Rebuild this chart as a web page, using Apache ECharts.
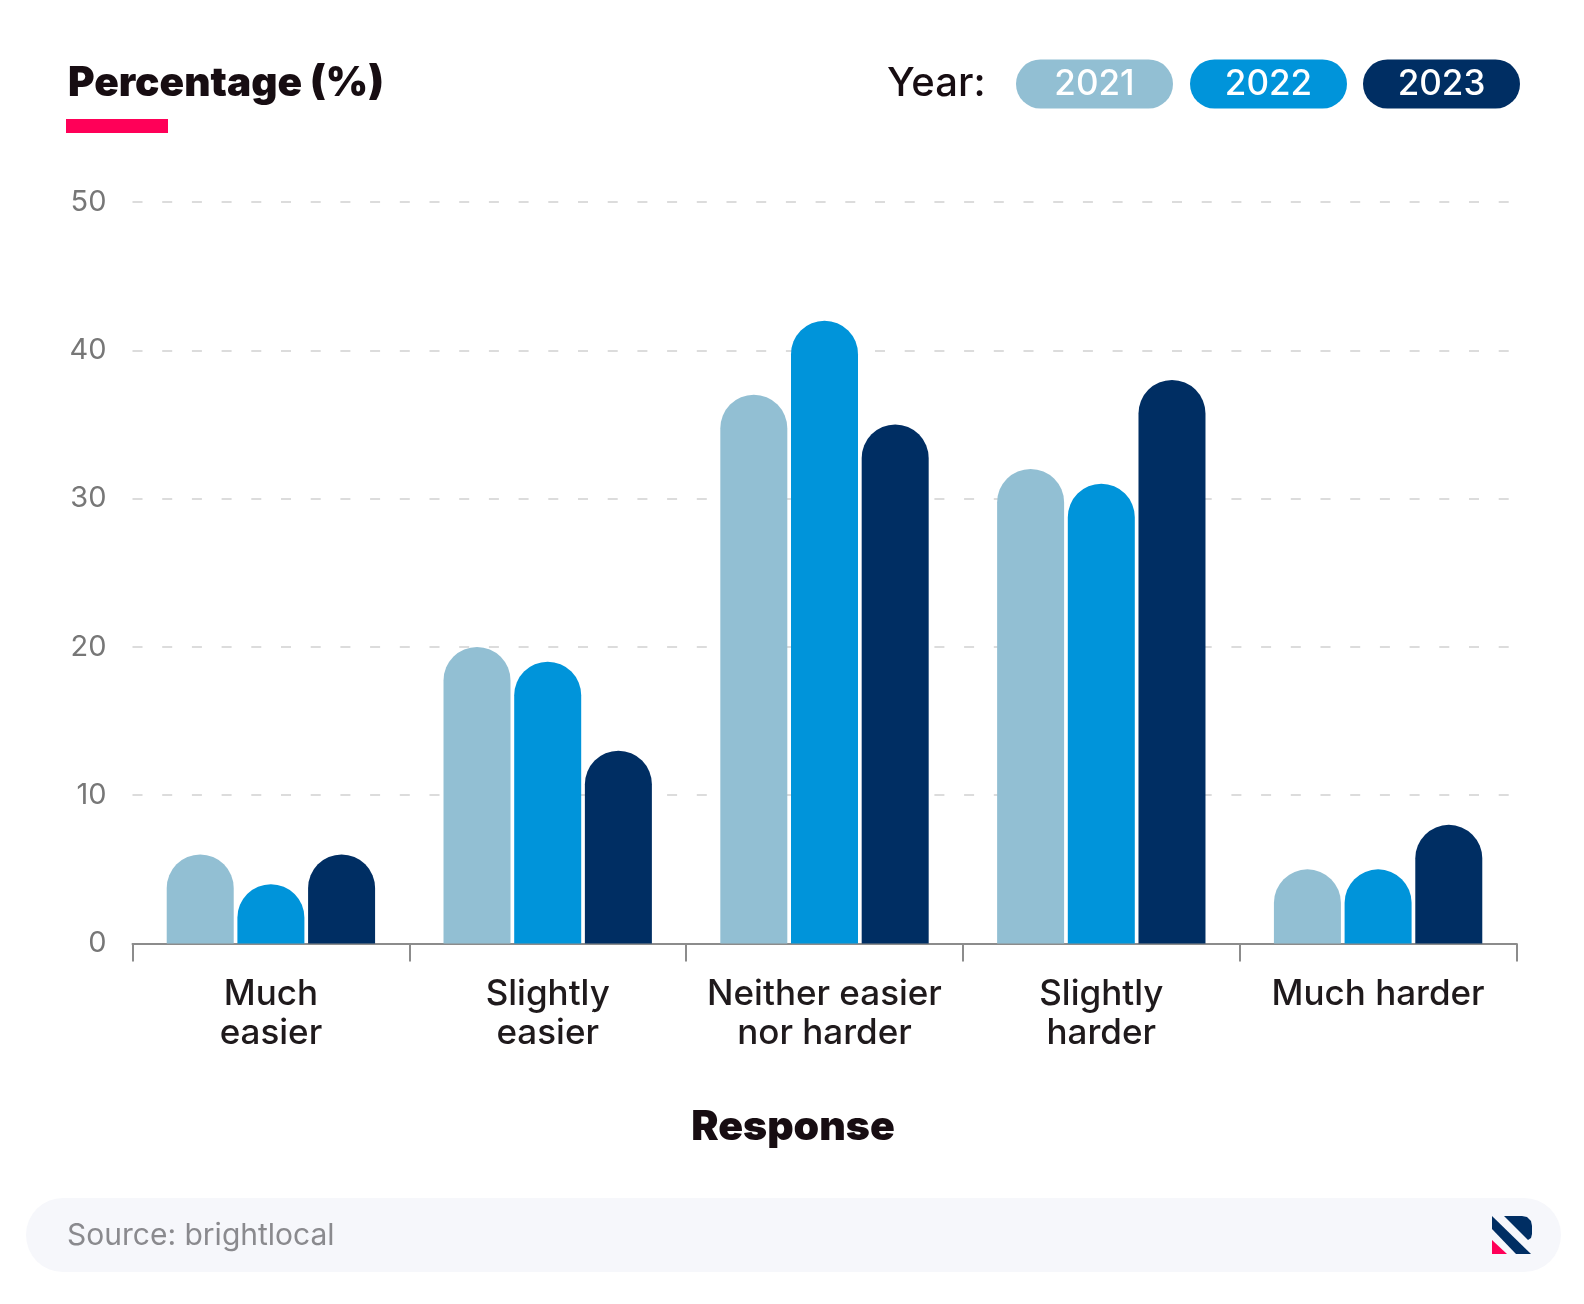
<!DOCTYPE html>
<html>
<head>
<meta charset="utf-8">
<title>Percentage by response</title>
<script src="https://cdn.jsdelivr.net/npm/echarts@6/dist/echarts.min.js"></script>
<style>
	html, body { margin: 0; padding: 0; background: #fff; }
	#chart { width: 1584px; height: 1304px; }
</style>
</head>
<body>
<div id="chart"></div>
<script>
var categories = ['Much\neasier', 'Slightly\neasier', 'Neither easier\nnor harder', 'Slightly\nharder', 'Much harder']
var years = ['2021', '2022', '2023']
var values2021 = [6, 20, 37, 32, 5]
var values2022 = [4, 19, 42, 31, 5]
var values2023 = [6, 13, 35, 38, 8]
var colors = ['#92bfd3', '#0094da', '#002e63']

var font = 'Inter, "Noto Sans", sans-serif'
var myChart = echarts.init(document.getElementById('chart'))

function makeSeries(name, data, color) {
	return {
		name: name,
		type: 'bar',
		data: data,
		barWidth: 67,
		barGap: '5.5%',
		itemStyle: { color: color, borderRadius: [33.5, 33.5, 0, 0] }
	}
}

// legend pills, drawn by hand because the text sits inside them
function pill(x, label, color) {
	return [{
		type: 'rect',
		shape: { x: x, y: 59.5, width: 157, height: 49, r: 24.5 },
		style: { fill: color }
	}, {
		type: 'text',
		x: x + 78.5,
		y: 84,
		style: { text: label, fill: '#fff', font: '500 35px ' + font, textAlign: 'center', textVerticalAlign: 'middle' }
	}]
}

var chrome = [{
	type: 'text',
	x: 68,
	y: 84,
	style: { text: 'Percentage (%)', fill: '#170d12', font: '900 40.6px ' + font, textVerticalAlign: 'middle' }
}, {
	type: 'rect',
	shape: { x: 66, y: 119, width: 102, height: 14 },
	style: { fill: '#ff0058' }
}, {
	type: 'text',
	x: 887,
	y: 84,
	style: { text: 'Year:', fill: '#170d12', font: '500 40px ' + font, textVerticalAlign: 'middle' }
}, {
	type: 'text',
	x: 793,
	y: 1128,
	style: { text: 'Response', fill: '#170d12', font: '900 41px ' + font, textAlign: 'center', textVerticalAlign: 'middle' }
}, {
	type: 'rect',
	shape: { x: 26, y: 1198, width: 1535, height: 74, r: 37 },
	style: { fill: '#f6f7fb' }
}, {
	type: 'text',
	x: 67,
	y: 1236,
	style: { text: 'Source: brightlocal', fill: '#8a8a8e', font: '400 30px ' + font, textVerticalAlign: 'middle' }
}, {
	type: 'polygon',
	shape: { points: [[1492, 1216], [1492, 1229], [1516, 1254], [1531, 1254]] },
	style: { fill: '#002e63' }
}, {
	type: 'polygon',
	shape: { points: [[1504, 1216], [1522, 1216], [1527, 1217], [1531, 1221], [1532, 1226], [1532, 1234], [1531, 1238], [1528, 1240]] },
	style: { fill: '#002e63' }
}, {
	type: 'polygon',
	shape: { points: [[1492, 1240], [1492, 1254], [1507, 1254]] },
	style: { fill: '#ff0058' }
}]
chrome = chrome.concat(pill(1016, years[0], colors[0]), pill(1190, years[1], colors[1]), pill(1363, years[2], colors[2]))

var option = {
	animation: false,
	backgroundColor: '#fff',
	grid: { left: 132.5, top: 202, width: 1384, height: 741.5, containLabel: false },
	xAxis: {
		type: 'category',
		data: categories,
		axisLine: { lineStyle: { color: '#8c8c8c', width: 2 } },
		axisTick: { show: true, length: 18, lineStyle: { color: '#8c8c8c', width: 2 } },
		axisLabel: { margin: 31, color: '#1f1a1c', fontFamily: font, fontSize: 35, fontWeight: 500, lineHeight: 39, interval: 0 }
	},
	yAxis: {
		type: 'value',
		min: 0,
		max: 50,
		interval: 10,
		axisLine: { show: false },
		axisTick: { show: false },
		axisLabel: { margin: 26, color: '#777', fontFamily: font, fontSize: 29 },
		splitLine: { lineStyle: { color: '#dcdcdc', width: 2, type: [10, 19.7] } }
	},
	series: [
		makeSeries(years[0], values2021, colors[0]),
		makeSeries(years[1], values2022, colors[1]),
		makeSeries(years[2], values2023, colors[2])
	],
	graphic: { elements: chrome }
}
myChart.setOption(option)
</script>
</body>
</html>
